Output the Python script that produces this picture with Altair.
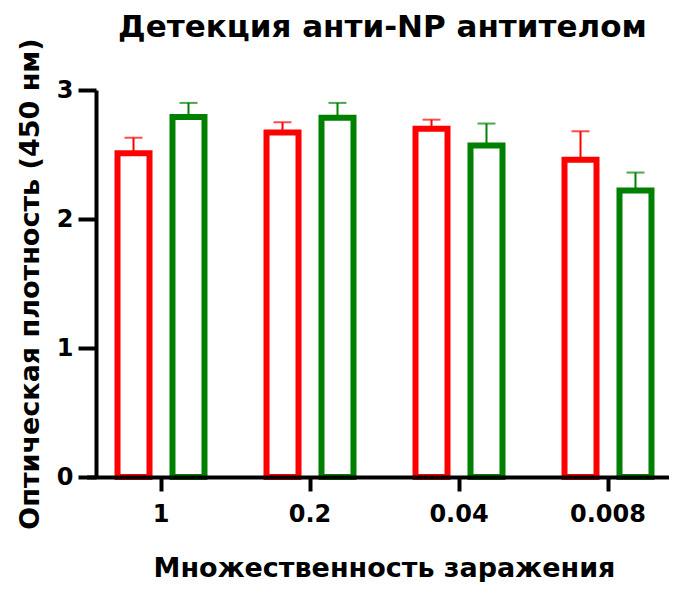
import altair as alt
import pandas as pd

# ---- data ----
dilutions = ["1", "0.2", "0.04", "0.008"]
groups = ["Группа 1", "Группа 2"]
red_mean = [2.51, 2.67, 2.70, 2.46]
red_err = [0.12, 0.08, 0.07, 0.22]
green_mean = [2.79, 2.785, 2.57, 2.22]
green_err = [0.11, 0.115, 0.17, 0.14]
colors = ["#ff0000", "#008000"]

rows = []
for g, means, errs in zip(groups, [red_mean, green_mean], [red_err, green_err]):
    for d, m, e in zip(dilutions, means, errs):
        rows.append({"dilution": d, "group": g, "mean": m, "err": e})
df = pd.DataFrame(rows)

FONT = "DejaVu Sans"

x_enc = alt.X(
    "dilution:N",
    sort=dilutions,
    scale=alt.Scale(range=[-9.5, 586.5], paddingInner=0, paddingOuter=0),
    axis=alt.Axis(
        title="Множественность заражения",
        titleFont=FONT, titleFontSize=27, titleFontWeight="bold", titleColor="black",
        titleX=288, titleY=99, titleBaseline="alphabetic", titleAlign="center",
        labelAngle=0, labelFont=FONT, labelFontSize=24, labelFontWeight="bold",
        labelColor="black", labelPadding=11,
        tickSize=14, tickWidth=4, tickColor="black",
        domainWidth=4, domainColor="black", zindex=1,
    ),
)
xoff_enc = alt.XOffset(
    "group:N", sort=groups,
    scale=alt.Scale(domain=groups, paddingInner=0.418, paddingOuter=0.564),
)
y_scale = alt.Scale(domain=[0, 3], nice=False, zero=True)
y_enc = alt.Y(
    "mean:Q",
    scale=y_scale,
    axis=alt.Axis(
        title="Оптическая плотность (450 нм)",
        titleFont=FONT, titleFontSize=27, titleFontWeight="bold", titleColor="black",
        titleX=-66, titleY=193.5, titleAngle=270, titleBaseline="middle", titleAlign="center",
        values=[0, 1, 2, 3], format="d",
        labelFont=FONT, labelFontSize=24, labelFontWeight="bold", labelColor="black",
        labelPadding=5, tickSize=18, tickWidth=4, tickColor="black",
        domainWidth=4, domainColor="black", grid=False, zindex=1,
    ),
)

base = alt.Chart(df).transform_calculate(upper="datum.mean + datum.err")

bars = base.mark_bar(fill="white", strokeWidth=6).encode(
    x=x_enc,
    xOffset=xoff_enc,
    y=y_enc,
    stroke=alt.Stroke("group:N", scale=alt.Scale(domain=groups, range=colors), legend=None),
)

err_line = base.mark_rule(strokeWidth=2).encode(
    x=x_enc,
    xOffset=xoff_enc,
    y=alt.Y("mean:Q", scale=y_scale),
    y2="upper:Q",
    color=alt.Color("group:N", scale=alt.Scale(domain=groups, range=colors), legend=None),
)

caps = base.mark_tick(size=18, thickness=2).encode(
    x=x_enc,
    xOffset=xoff_enc,
    y=alt.Y("upper:Q", scale=y_scale),
    color=alt.Color("group:N", scale=alt.Scale(domain=groups, range=colors), legend=None),
)

chart = (
    alt.layer(bars, err_line, caps)
    .properties(
        width=573,
        height=387,
        autosize=alt.AutoSizeParams(type="none"),
        padding={"left": 88, "top": 82, "right": 0, "bottom": 105},
        title=alt.Title(
            "Детекция анти-NP антителом",
            font=FONT, fontSize=31, fontWeight="bold", color="black",
            anchor="middle", baseline="alphabetic", offset=3, dy=33,
        ),
        background="white",
    )
    .configure_view(stroke=None)
)

chart.save("out.html", embed_options={"renderer": "svg", "actions": False})
